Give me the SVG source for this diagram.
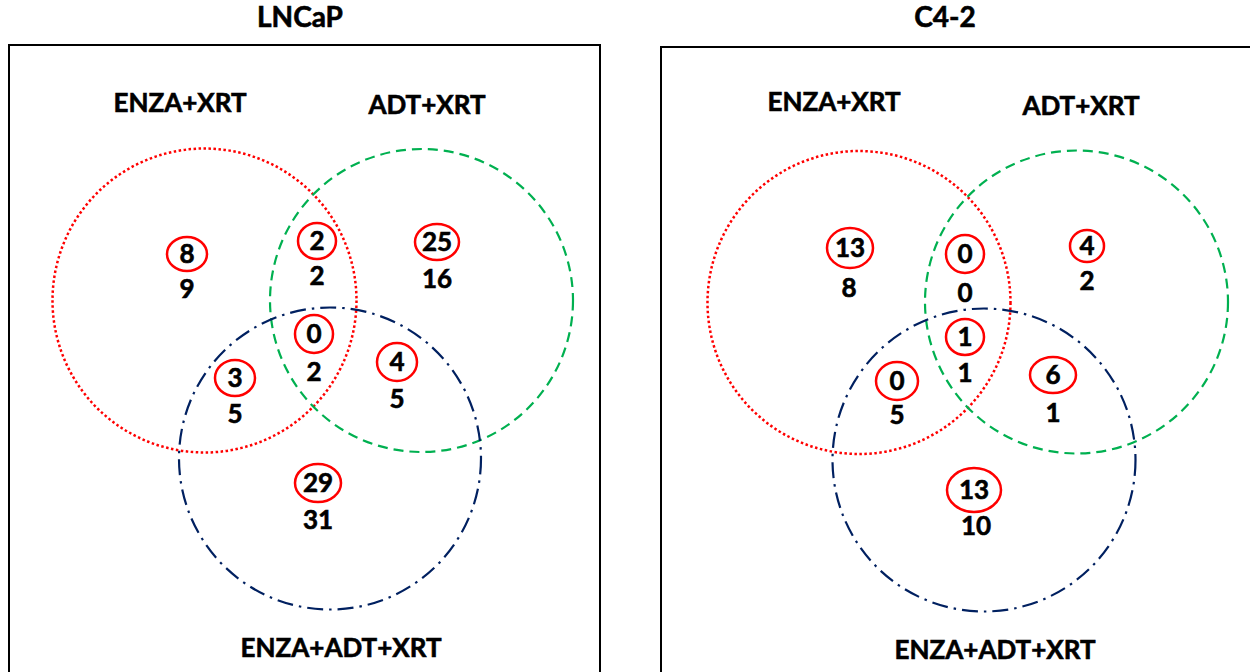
<svg xmlns="http://www.w3.org/2000/svg" width="1250" height="672" viewBox="0 0 1250 672">
  <style>
    text { font-family: Lato, "Open Sans", "Liberation Sans", sans-serif; font-weight: bold; fill: #000; stroke: #000; stroke-width: 0.6; text-anchor: middle; }
    .title { font-size: 28px; }
    .label { font-size: 26px; }
    .num { font-size: 26px; }
    .frame { fill: none; stroke: #000; stroke-width: 2; }
    .set-a { fill: none; stroke: #ff0000; stroke-width: 2.5; stroke-dasharray: 2.5 2.5; }
    .set-b { fill: none; stroke: #00b050; stroke-width: 2.2; stroke-dasharray: 10 6; }
    .set-c { fill: none; stroke: #002060; stroke-width: 2.2; stroke-dasharray: 16 6 2.5 6; }
    .ring { fill: none; stroke: #ff0000; stroke-width: 2.5; }
  </style>

  <!-- LNCaP panel -->
  <g id="lncap">
    <text class="title" x="300" y="27">LNCaP</text>
    <rect class="frame" x="9" y="45" width="591" height="640"/>
    <text class="label" x="180" y="112">ENZA+XRT</text>
    <text class="label" x="427" y="114">ADT+XRT</text>
    <text class="label" x="341" y="657">ENZA+ADT+XRT</text>
    <circle class="set-a" cx="204.5" cy="300.5" r="152"/>
    <circle class="set-b" cx="421.5" cy="300.5" r="151.5"/>
    <circle class="set-c" cx="330" cy="458.5" r="151"/>
  </g>

  <g id="lncap-counts">
    <g id="lncap-enza"><ellipse class="ring" cx="187" cy="254" rx="20" ry="17"/><text class="num" x="187" y="263">8</text><text class="num" x="187" y="298">9</text></g>
    <g id="lncap-enza-adt"><ellipse class="ring" cx="317" cy="241" rx="19" ry="18"/><text class="num" x="317" y="250">2</text><text class="num" x="317" y="285">2</text></g>
    <g id="lncap-adt"><ellipse class="ring" cx="437" cy="242" rx="22" ry="18"/><text class="num" x="437" y="251">25</text><text class="num" x="437" y="288">16</text></g>
    <g id="lncap-all"><ellipse class="ring" cx="314" cy="334" rx="19" ry="19"/><text class="num" x="314" y="343">0</text><text class="num" x="314" y="381">2</text></g>
    <g id="lncap-enza-triple"><ellipse class="ring" cx="235" cy="378" rx="20" ry="18"/><text class="num" x="235" y="387">3</text><text class="num" x="235" y="423">5</text></g>
    <g id="lncap-adt-triple"><ellipse class="ring" cx="397" cy="362" rx="20" ry="19"/><text class="num" x="397" y="371">4</text><text class="num" x="397" y="408">5</text></g>
    <g id="lncap-triple"><ellipse class="ring" cx="318" cy="483" rx="23" ry="19"/><text class="num" x="318" y="492">29</text><text class="num" x="318" y="529">31</text></g>
  </g>

  <!-- C4-2 panel -->
  <g id="c42">
    <text class="title" x="945" y="27">C4-2</text>
    <rect class="frame" x="661" y="47" width="600" height="640"/>
    <text class="label" x="834" y="111">ENZA+XRT</text>
    <text class="label" x="1081" y="115">ADT+XRT</text>
    <text class="label" x="995" y="659">ENZA+ADT+XRT</text>
    <circle class="set-a" cx="859" cy="302.5" r="151.5"/>
    <circle class="set-b" cx="1076.5" cy="302" r="151.5"/>
    <circle class="set-c" cx="984" cy="460" r="151.5"/>
  </g>

  <g id="c42-counts">
    <g id="c42-enza"><ellipse class="ring" cx="850" cy="248" rx="23" ry="20"/><text class="num" x="850" y="257">13</text><text class="num" x="849" y="297">8</text></g>
    <g id="c42-enza-adt"><ellipse class="ring" cx="965" cy="254" rx="19" ry="19"/><text class="num" x="965" y="263">0</text><text class="num" x="965" y="302">0</text></g>
    <g id="c42-adt"><ellipse class="ring" cx="1087" cy="246" rx="17" ry="16"/><text class="num" x="1087" y="255">4</text><text class="num" x="1087" y="290">2</text></g>
    <g id="c42-all"><ellipse class="ring" cx="965" cy="337" rx="19" ry="18"/><text class="num" x="965" y="346">1</text><text class="num" x="965" y="382">1</text></g>
    <g id="c42-enza-triple"><ellipse class="ring" cx="897" cy="381" rx="21" ry="19"/><text class="num" x="897" y="390">0</text><text class="num" x="897" y="424">5</text></g>
    <g id="c42-adt-triple"><ellipse class="ring" cx="1053" cy="375" rx="23" ry="18"/><text class="num" x="1053" y="384">6</text><text class="num" x="1053" y="422">1</text></g>
    <g id="c42-triple"><ellipse class="ring" cx="974" cy="490" rx="27" ry="22"/><text class="num" x="974" y="499">13</text><text class="num" x="976" y="535">10</text></g>
  </g>
</svg>
